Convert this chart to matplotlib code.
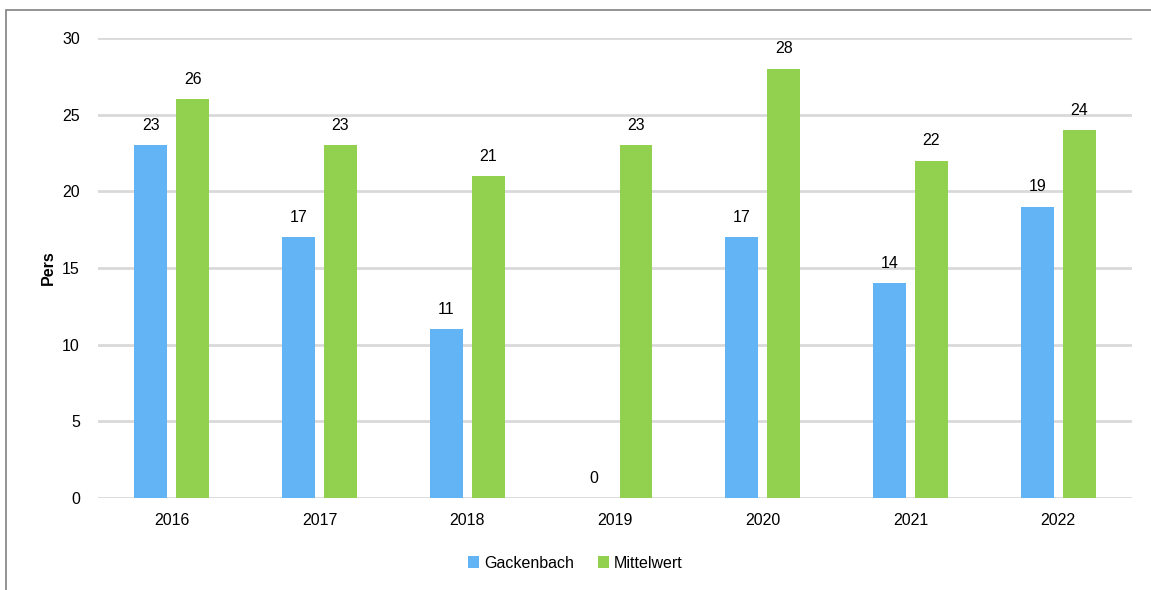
import numpy as np
import matplotlib.pyplot as plt
from matplotlib.patches import Rectangle

plt.rcParams['font.family'] = ['Liberation Sans', 'DejaVu Sans']

years = ["2016", "2017", "2018", "2019", "2020", "2021", "2022"]
gackenbach = [23, 17, 11, 0, 17, 14, 19]
mittelwert = [26, 23, 21, 23, 28, 22, 24]

col_blue = "#63B4F5"
col_green = "#92D050"
fs = 11.5

fig = plt.figure(figsize=(11.51, 5.90), dpi=100)
ax = fig.add_axes([98 / 1151, 1 - 498 / 590, (1132 - 98) / 1151, (498 - 38) / 590])

x = np.arange(len(years))
w = 0.223
off = 0.142
b1 = ax.bar(x - off, gackenbach, w, color=col_blue, label="Gackenbach", zorder=3)
b2 = ax.bar(x + off, mittelwert, w, color=col_green, label="Mittelwert", zorder=3)

for bars, vals in ((b1, gackenbach), (b2, mittelwert)):
    for r, v in zip(bars, vals):
        ax.text(r.get_x() + r.get_width() / 2, v + 0.8, str(v),
                ha="center", va="bottom", fontsize=fs)

ax.set_xlim(-0.5, len(years) - 0.5)
ax.set_ylim(0, 30)
ax.set_yticks(range(0, 31, 5))
ax.set_xticks(x)
ax.set_xticklabels(years)
ax.tick_params(length=0, labelsize=fs)
ax.tick_params(axis="y", pad=13)
ax.tick_params(axis="x", pad=11)
ax.grid(axis="y", color="#D9D9D9", linewidth=2, zorder=0)
for s in ax.spines.values():
    s.set_visible(False)

ax.set_ylabel("Pers", fontsize=fs, fontweight="bold")
ax.yaxis.set_label_coords((56 - 98) / 1034, 0.5)

fig.legend(handles=[b1, b2], loc="center", bbox_to_anchor=(0.5, 1 - 563 / 590),
           ncol=2, frameon=False, fontsize=fs, handlelength=0.7, handleheight=0.7,
           handletextpad=0.3, columnspacing=1.5)

# outer chart frame (only top and left edges visible)
fig.add_artist(Rectangle((6 / 1151, -0.1), 1.2, 1 - 10 / 590 + 0.1,
                         transform=fig.transFigure, fill=False,
                         edgecolor="#808080", linewidth=1.2))

fig.savefig("out.png", dpi=100)
